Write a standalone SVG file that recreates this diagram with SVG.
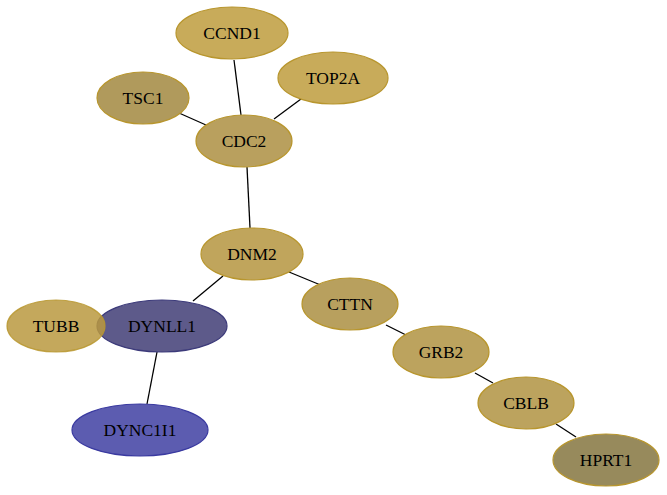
<svg xmlns="http://www.w3.org/2000/svg" width="667" height="495" viewBox="0 0 667 495">
<style>
.e{stroke:#000;stroke-width:1.3;fill:none}
.n ellipse{stroke-width:1.2}
.g ellipse{stroke:#b8962e}
text{font-family:"Liberation Serif","Times New Roman",serif;font-size:17.5px;fill:#000;text-anchor:middle;dominant-baseline:central}
</style>
<rect width="667" height="495" fill="#fff"/>
<g id="edges">
<line class="e" x1="234" y1="60" x2="241" y2="115"/>
<line class="e" x1="301" y1="99" x2="274" y2="119"/>
<line class="e" x1="179" y1="113" x2="206" y2="125"/>
<line class="e" x1="247" y1="167" x2="250" y2="228"/>
<line class="e" x1="223" y1="276" x2="193" y2="301"/>
<line class="e" x1="289" y1="272" x2="323" y2="286"/>
<line class="e" x1="386" y1="325" x2="406" y2="335"/>
<line class="e" x1="475" y1="373" x2="493" y2="383"/>
<line class="e" x1="556" y1="424" x2="576" y2="437"/>
<line class="e" x1="157" y1="352" x2="147" y2="404"/>
</g>
<g id="CCND1" class="n g"><ellipse cx="232" cy="33" rx="56" ry="26" fill="#c8ab5a"/><text x="232" y="33">CCND1</text></g>
<g id="TOP2A" class="n g"><ellipse cx="333" cy="78" rx="55" ry="26" fill="#c8ab5a"/><text x="333" y="78">TOP2A</text></g>
<g id="TSC1" class="n g"><ellipse cx="143" cy="98" rx="46" ry="26" fill="#b09a5c"/><text x="143" y="98">TSC1</text></g>
<g id="CDC2" class="n g"><ellipse cx="244" cy="141" rx="48" ry="26" fill="#b9a05e"/><text x="244" y="141">CDC2</text></g>
<g id="DNM2" class="n g"><ellipse cx="252" cy="254" rx="51" ry="26" fill="#c0a55c"/><text x="252" y="254">DNM2</text></g>
<g id="CTTN" class="n g"><ellipse cx="350" cy="304" rx="48" ry="26" fill="#b8a05e"/><text x="350" y="304">CTTN</text></g>
<g id="GRB2" class="n g"><ellipse cx="441" cy="352" rx="48" ry="26" fill="#bca35e"/><text x="441" y="352">GRB2</text></g>
<g id="CBLB" class="n g"><ellipse cx="526" cy="403" rx="48" ry="26" fill="#bca35e"/><text x="526" y="403">CBLB</text></g>
<g id="HPRT1" class="n g"><ellipse cx="606" cy="460" rx="53" ry="26" fill="#978a5c"/><text x="606" y="460">HPRT1</text></g>
<g id="DYNLL1" class="n"><ellipse cx="162" cy="326" rx="65" ry="26" fill="#5d5a8a" stroke="#3c3a7a"/><text x="162" y="326">DYNLL1</text></g>
<g id="TUBB" class="n g"><ellipse cx="56" cy="326" rx="49" ry="26" fill="#ba993f" fill-opacity="0.85" stroke-opacity="0.85"/><text x="56" y="326">TUBB</text></g>
<g id="DYNC1I1" class="n"><ellipse cx="140" cy="430" rx="68" ry="26" fill="#5c5cb0" stroke="#3a3aa0"/><text x="140" y="430">DYNC1I1</text></g>
</svg>
